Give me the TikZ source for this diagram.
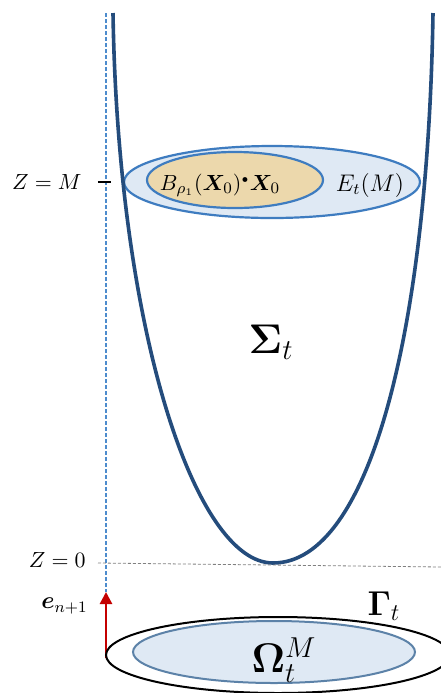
\documentclass[tikz,border=0pt]{standalone}
\usepackage{amsmath}
\usepackage{bm}
\usetikzlibrary{arrows.meta}
\definecolor{surfblue}{RGB}{36,76,124}
\definecolor{ringblue}{RGB}{62,124,192}
\definecolor{paleblue}{RGB}{223,233,244}
\definecolor{sand}{RGB}{236,216,172}
\definecolor{axisblue}{RGB}{77,140,205}
\definecolor{discblue}{RGB}{92,130,168}
\definecolor{arrred}{RGB}{196,0,0}
\begin{document}
\begin{tikzpicture}[x=0.5pt,y=-0.5pt,
  every node/.style={font=\fontsize{11}{13}\selectfont,inner sep=1pt},
  ring/.style={draw=ringblue,line width=1.1pt},
  axis/.style={axisblue,line width=0.8pt,dash pattern=on 2pt off 1pt}
]
\clip (0,0) rectangle (441,693);
\fill[white] (0,0) rectangle (441,693);
% level set at Z=M
\draw[ring,fill=paleblue] (272,182) ellipse [x radius=148,y radius=36];
\draw[ring,fill=sand] (235,180) ellipse [x radius=88,y radius=28];
\node (ball) at (220,185) {$B_{\rho_1}(\bm{X}_0)^{\scriptscriptstyle\bullet}\bm{X}_0$};
\node (ent) at (370,185) {\large $E_t(M)$};
% the surface
\coordinate (topl) at (113,13);
\coordinate (bot) at (273,563);
\coordinate (topr) at (433,13);
\draw[surfblue,line width=1.8pt] (topl) .. controls (118,330) and (195,563) .. (bot)
  .. controls (370,563) and (428,330) .. (topr);
\node (sig) at (271,342) {\huge $\mathbf{\Sigma}_t$};
% axis and levels
\coordinate (axtop) at (106,13);
\coordinate (axtip) at (106,592);
\coordinate (axbot) at (106,658);
\draw[axis] (axtop) -- (axtip);
\coordinate (tickl) at (98,182);
\coordinate (tickr) at (111,182);
\draw[line width=0.8pt] (tickl) -- (tickr);
\node[left] (zm) at (84,182) {$Z = M$};
\coordinate (zl) at (98,563);
\coordinate (zr) at (441,567);
\draw[gray,line width=0.4pt,dash pattern=on 1.5pt off 1pt] (zl) -- (zr);
\node[left] (z0) at (88,560) {$Z = 0$};
\draw[arrred,line width=1.3pt,-{Triangle[length=6pt,width=6pt]}] (axbot) -- (axtip);
\node[left] (en) at (90,606) {\large $\bm{e}_{n+1}$};
\node (gam) at (384,606) {\LARGE $\mathbf{\Gamma}_t$};
% the disc at the bottom
\draw[line width=1pt] (278,655) ellipse [x radius=172,y radius=38];
\draw[discblue,fill=paleblue,line width=1pt] (274,652) ellipse [x radius=141,y radius=31];
\node (om) at (284,660) {\huge $\mathbf{\Omega}_t^M$};
\end{tikzpicture}
\end{document}
